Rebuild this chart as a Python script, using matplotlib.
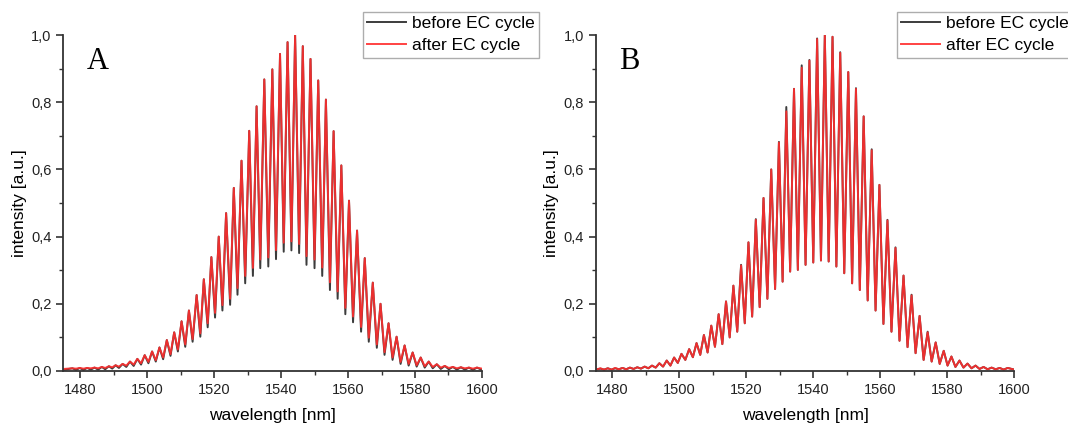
import numpy as np
import matplotlib
matplotlib.use("Agg")
import matplotlib.pyplot as plt
from matplotlib.ticker import MultipleLocator, FuncFormatter

plt.rcParams["font.family"] = ["Liberation Sans", "DejaVu Sans"]

# ---- panel A : fringe maxima / minima ----
a_peak_wl = [1477.7, 1479.9, 1482.1, 1484.3, 1486.5, 1488.6, 1490.6, 1492.7, 1494.9, 1497.1,
             1499.3, 1501.5, 1503.7, 1505.9, 1508.1, 1510.3, 1512.5, 1514.8, 1516.95, 1519.2,
             1521.4, 1523.6, 1525.9, 1528.2, 1530.5, 1532.7, 1535.0, 1537.4, 1539.7, 1541.95,
             1544.2, 1546.5, 1548.8, 1551.1, 1553.4, 1555.7, 1558.0, 1560.3, 1562.7, 1565.0,
             1567.4, 1569.7, 1572.1, 1574.5, 1576.9, 1579.3, 1581.7, 1584.1, 1586.5, 1588.9,
             1591.3, 1593.7, 1596.1, 1598.5]
a_peak_i = [0.008, 0.009, 0.009, 0.010, 0.012, 0.014, 0.017, 0.021, 0.028, 0.036,
            0.047, 0.058, 0.070, 0.092, 0.115, 0.148, 0.180, 0.226, 0.273, 0.339,
            0.400, 0.470, 0.545, 0.626, 0.715, 0.788, 0.868, 0.898, 0.944, 0.979,
            1.000, 0.967, 0.929, 0.865, 0.808, 0.714, 0.612, 0.507, 0.418, 0.336,
            0.263, 0.200, 0.142, 0.102, 0.076, 0.055, 0.040, 0.028, 0.020, 0.015,
            0.012, 0.011, 0.010, 0.010]
a_trough_wl = [1475.0, 1478.8, 1481.0, 1483.2, 1485.4, 1487.5, 1489.6, 1491.6, 1493.8, 1496.0,
               1498.2, 1500.4, 1502.6, 1504.8, 1507.0, 1509.2, 1511.4, 1513.6, 1515.9, 1518.1,
               1520.3, 1522.5, 1524.8, 1527.0, 1529.3, 1531.6, 1533.8, 1536.2, 1538.5, 1540.8,
               1543.1, 1545.4, 1547.6, 1550.0, 1552.3, 1554.6, 1556.9, 1559.2, 1561.5, 1563.9,
               1566.2, 1568.6, 1570.9, 1573.3, 1575.7, 1578.1, 1580.5, 1582.9, 1585.3, 1587.7,
               1590.1, 1592.5, 1594.9, 1597.3, 1600.0]
a_trough_before = [0.003, 0.003, 0.003, 0.004, 0.004, 0.005, 0.007, 0.009, 0.012, 0.015,
                   0.019, 0.023, 0.028, 0.035, 0.045, 0.058, 0.072, 0.087, 0.102, 0.130,
                   0.159, 0.180, 0.197, 0.227, 0.261, 0.283, 0.306, 0.311, 0.333, 0.355,
                   0.359, 0.351, 0.316, 0.306, 0.283, 0.241, 0.215, 0.169, 0.145, 0.117,
                   0.087, 0.069, 0.048, 0.033, 0.021, 0.016, 0.013, 0.010, 0.008, 0.006,
                   0.005, 0.004, 0.004, 0.003, 0.003]
a_trough_after = [0.006, 0.007, 0.007, 0.008, 0.008, 0.009, 0.011, 0.013, 0.016, 0.019,
                  0.023, 0.027, 0.032, 0.040, 0.050, 0.064, 0.079, 0.095, 0.112, 0.142,
                  0.173, 0.196, 0.215, 0.247, 0.283, 0.307, 0.332, 0.338, 0.360, 0.382,
                  0.386, 0.378, 0.342, 0.332, 0.308, 0.264, 0.237, 0.188, 0.162, 0.131,
                  0.099, 0.079, 0.056, 0.040, 0.027, 0.021, 0.017, 0.014, 0.012, 0.010,
                  0.009, 0.008, 0.008, 0.007, 0.007]

# ---- panel B ----
b_peak_wl = [1476.4, 1478.6, 1480.8, 1483.0, 1485.2, 1487.4, 1489.6, 1491.8, 1494.0, 1496.2,
             1498.4, 1500.6, 1502.9, 1505.1, 1507.3, 1509.5, 1511.7, 1513.9, 1516.1, 1518.4,
             1520.6, 1522.8, 1525.1, 1527.4, 1529.7, 1531.9, 1534.2, 1536.5, 1538.8, 1541.1,
             1543.4, 1545.7, 1548.0, 1550.4, 1552.7, 1555.0, 1557.4, 1559.7, 1562.1, 1564.5,
             1566.9, 1569.3, 1571.7, 1574.1, 1576.5, 1578.9, 1581.2, 1583.6, 1586.0, 1588.4,
             1590.8, 1593.2, 1595.6, 1598.0]
b_peak_after = [0.008, 0.008, 0.009, 0.009, 0.010, 0.011, 0.013, 0.016, 0.023, 0.031,
                0.040, 0.051, 0.065, 0.083, 0.107, 0.135, 0.169, 0.207, 0.254, 0.314,
                0.383, 0.450, 0.515, 0.600, 0.680, 0.773, 0.840, 0.903, 0.924, 0.988,
                1.000, 0.995, 0.947, 0.890, 0.840, 0.758, 0.657, 0.554, 0.448, 0.366,
                0.284, 0.225, 0.164, 0.115, 0.085, 0.060, 0.043, 0.031, 0.022, 0.016,
                0.012, 0.010, 0.009, 0.009]
b_peak_before = [0.007, 0.008, 0.008, 0.009, 0.010, 0.011, 0.013, 0.016, 0.023, 0.031,
                 0.040, 0.051, 0.065, 0.083, 0.107, 0.135, 0.169, 0.207, 0.254, 0.316,
                 0.383, 0.452, 0.515, 0.600, 0.682, 0.786, 0.840, 0.910, 0.926, 0.990,
                 1.000, 0.995, 0.949, 0.890, 0.842, 0.758, 0.660, 0.554, 0.450, 0.368,
                 0.284, 0.227, 0.164, 0.117, 0.085, 0.060, 0.043, 0.031, 0.022, 0.016,
                 0.012, 0.010, 0.009, 0.009]
b_trough_wl = [1475.0, 1477.5, 1479.7, 1481.9, 1484.1, 1486.3, 1488.5, 1490.7, 1492.9, 1495.1,
               1497.3, 1499.5, 1501.75, 1504.0, 1506.2, 1508.4, 1510.6, 1512.8, 1515.0, 1517.25,
               1519.5, 1521.7, 1523.95, 1526.25, 1528.55, 1530.8, 1533.05, 1535.35, 1537.65, 1539.95,
               1542.25, 1544.55, 1546.85, 1549.2, 1551.55, 1553.85, 1556.2, 1558.55, 1560.9, 1563.3,
               1565.7, 1568.1, 1570.5, 1572.9, 1575.3, 1577.7, 1580.05, 1582.4, 1584.8, 1587.2,
               1589.6, 1592.0, 1594.4, 1596.8, 1600.0]
b_trough_i = [0.004, 0.004, 0.004, 0.005, 0.005, 0.006, 0.007, 0.008, 0.010, 0.013,
              0.016, 0.024, 0.033, 0.041, 0.048, 0.055, 0.072, 0.080, 0.100, 0.117,
              0.142, 0.162, 0.190, 0.215, 0.244, 0.266, 0.296, 0.301, 0.316, 0.323,
              0.329, 0.326, 0.311, 0.291, 0.261, 0.241, 0.210, 0.180, 0.140, 0.117,
              0.090, 0.071, 0.053, 0.033, 0.028, 0.021, 0.016, 0.012, 0.010, 0.008,
              0.006, 0.005, 0.005, 0.004, 0.004]

labels = ["before EC cycle", "after EC cycle"]


def fringe(peak_wl, peak_i, trough_wl, trough_i):
    # trough, peak, trough, peak ... trough
    n = len(peak_wl)
    x = np.empty(2 * n + 1)
    y = np.empty(2 * n + 1)
    x[0::2] = trough_wl
    y[0::2] = trough_i
    x[1::2] = peak_wl
    y[1::2] = peak_i
    return x, y


comma = FuncFormatter(lambda v, p: f"{v:.1f}".replace(".", ","))

fig = plt.figure(figsize=(10.68, 4.23), dpi=100)
axA = fig.add_axes([0.0593, 0.123, 0.392, 0.794])
axB = fig.add_axes([0.5578, 0.123, 0.392, 0.794])

panels = [
    (axA, "A", fringe(a_peak_wl, a_peak_i, a_trough_wl, a_trough_before),
     fringe(a_peak_wl, a_peak_i, a_trough_wl, a_trough_after), 0.340),
    (axB, "B", fringe(b_peak_wl, b_peak_before, b_trough_wl, b_trough_i),
     fringe(b_peak_wl, b_peak_after, b_trough_wl, b_trough_i), 0.840),
]

for ax, letter, before, after, lx in panels:
    ax.plot(*before, color="#3c3c3c", lw=1.4, label=labels[0])
    ax.plot(*after, color="#ff2e2e", lw=1.4, label=labels[1], alpha=0.9)
    ax.set_xlim(1475, 1600)
    ax.set_ylim(0, 1.0)
    ax.xaxis.set_major_locator(MultipleLocator(20))
    ax.xaxis.set_minor_locator(MultipleLocator(10))
    ax.yaxis.set_major_locator(MultipleLocator(0.2))
    ax.yaxis.set_minor_locator(MultipleLocator(0.1))
    ax.yaxis.set_major_formatter(comma)
    for s in ["top", "right"]:
        ax.spines[s].set_visible(False)
    for s in ["left", "bottom"]:
        ax.spines[s].set_linewidth(1.3)
        ax.spines[s].set_color("#333333")
    ax.tick_params(which="major", direction="out", length=5, width=1.2,
                   labelsize=10.5, colors="#333333", labelcolor="#222222")
    ax.tick_params(which="minor", direction="out", length=3, width=1.0, colors="#333333")
    ax.set_xlabel("wavelength [nm]", fontsize=12.5, labelpad=8)
    ax.set_ylabel("intensity [a.u.]", fontsize=12.5, labelpad=3)
    ax.text(0.055, 0.965, letter, transform=ax.transAxes, family="Liberation Serif",
            fontsize=22, va="top", ha="left")
    leg = ax.legend(loc="upper left", bbox_to_anchor=(lx, 0.972), bbox_transform=fig.transFigure,
                    fontsize=12.5, frameon=True, fancybox=False, handlelength=2.2,
                    handletextpad=0.35, borderpad=0.25, labelspacing=0.4, borderaxespad=0)
    leg.get_frame().set_edgecolor("#999999")
    leg.get_frame().set_linewidth(1.0)

fig.savefig("out.png", dpi=100)
